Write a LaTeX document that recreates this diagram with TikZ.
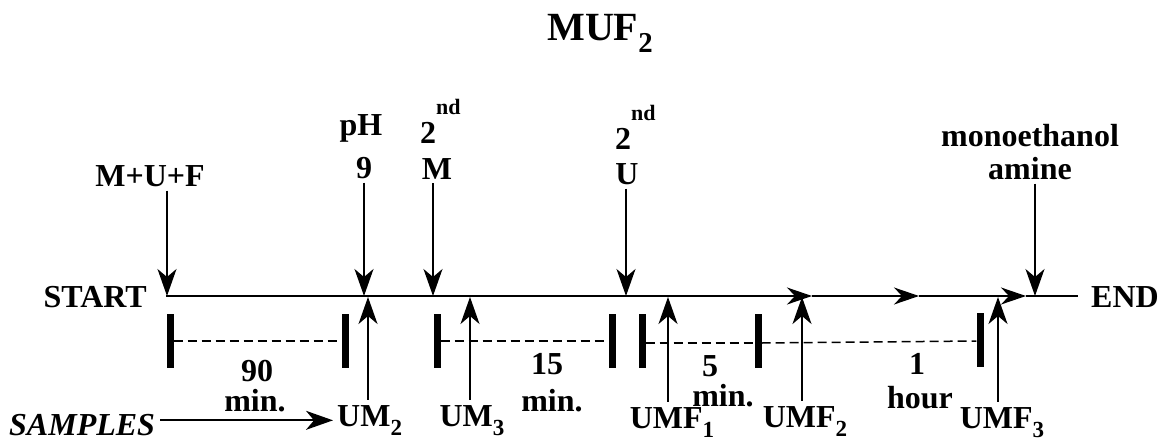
\documentclass[tikz,border=0pt]{standalone}
\usepackage{fontspec}
\setmainfont{Liberation Serif}
\usetikzlibrary{arrows.meta}
\tikzset{
  lbl/.style={font=\fontsize{32}{34}\selectfont\bfseries, inner sep=1pt, align=center},
  ttl/.style={font=\fontsize{40}{42}\selectfont\bfseries, inner sep=1pt},
  arr/.style={line width=1.7pt, -{Stealth[length=27pt,width=19pt,inset=8pt]}},
  tline/.style={line width=1.7pt},
  tarr/.style={line width=1.7pt, -{Stealth[length=25pt,width=17pt,inset=8pt]}},
  bar/.style={fill=black, draw=none, minimum width=7pt, minimum height=54pt, inner sep=0pt},
  dashln/.style={line width=1.5pt, dash pattern=on 9pt off 5pt},
}
\newcommand\nd{\raisebox{0.9em}{\fontsize{22}{22}\selectfont nd}}
\newcommand\sbs[1]{\raisebox{-0.3em}{\scalebox{0.72}{#1}}}
\begin{document}
\begin{tikzpicture}[x=1pt,y=-1pt]
\useasboundingbox (0,0) rectangle (1159,442);
% title
\node[ttl, anchor=base] (title) at (600,40) {MUF\sbs{2}};
% timeline coordinates
\coordinate (ts) at (166,296);
\coordinate (t1) at (167,296);
\coordinate (t2) at (364,296);
\coordinate (t3) at (433,296);
\coordinate (t4) at (626,296);
\coordinate (t5) at (1035,296);
\coordinate (b2) at (368,297);
\coordinate (b3) at (470,297);
\coordinate (b4) at (668,297);
\coordinate (b5) at (802,297);
\coordinate (b6) at (998,297);
\coordinate (m1) at (812,296);
\coordinate (m2) at (919,296);
\coordinate (m3) at (1026,296);
\coordinate (te) at (1078,296);
% labels
\node[lbl, anchor=base east] (start) at (148,307) {START};
\node[lbl, anchor=base west] (end) at (1090,307) {END};
\node[lbl, anchor=base] (mufl) at (150,186) {M+U+F};
\node[lbl, anchor=base] (ph) at (361,135) {pH};
\node[lbl, anchor=base] (nine) at (364,178) {9};
\node[lbl, anchor=base west] (ndm) at (419,143) {2\nd};
\node[lbl, anchor=base] (mm) at (437,179) {M};
\node[lbl, anchor=base west] (ndu) at (614,149) {2\nd};
\node[lbl, anchor=base] (uu) at (627,184) {U};
\node[lbl, anchor=base] (mono) at (1030,146) {monoethanol};
\node[lbl, anchor=base] (amine) at (1030,179) {amine};
% timeline
\draw[tarr] (ts) -- (m1);
\draw[tarr] (m1) -- (m2);
\draw[tarr] (m2) -- (m3);
\draw[tline] (m3) -- (te);
% down arrows
\draw[arr, shorten <=3pt] (mufl.south -| t1) -- (t1);
\draw[arr, shorten <=3pt] (nine.south -| t2) -- (t2);
\draw[arr, shorten <=3pt] (mm.south -| t3) -- (t3);
\draw[arr, shorten <=3pt] (uu.south -| t4) -- (t4);
\draw[arr, shorten <=3pt] (amine.south -| t5) -- (t5);
% bars and intervals
\node[bar] (k1) at (170,341) {};
\node[bar] (k2) at (345,341) {};
\node[bar] (k3) at (437,341) {};
\node[bar] (k4) at (612,341) {};
\node[bar] (k5) at (642,341) {};
\node[bar] (k6) at (758,341) {};
\node[bar] (k7) at (980,340) {};
\draw[dashln] (k1) -- (k2);
\draw[dashln] (k3) -- (k4);
\draw[dashln] ([yshift=-2pt]k5.east) -- ([yshift=-2pt]k6.west);
\draw[dashln] ([yshift=-2pt]k6.east) -- ([yshift=-1pt]k7.west);
\node[lbl, anchor=base] (n90) at (257,381) {90};
\node[lbl, anchor=base] (min1) at (255,411) {min.};
\node[lbl, anchor=base] (n15) at (547,374) {15};
\node[lbl, anchor=base] (min2) at (552,411) {min.};
\node[lbl, anchor=base] (n5) at (710,376) {5};
\node[lbl, anchor=base] (min3) at (723,406) {min.};
\node[lbl, anchor=base] (n1) at (917,374) {1};
\node[lbl, anchor=base] (hour) at (920,408) {hour};
% samples
\node[lbl, anchor=base west, font=\fontsize{32}{34}\selectfont\bfseries\itshape] (samples) at (8,435) {SAMPLES};
\node[lbl, anchor=base west] (um2) at (336,426) {UM\sbs{2}};
\node[lbl, anchor=base] (um3) at (472,426) {UM\sbs{3}};
\node[lbl, anchor=base] (umf1) at (672,428) {UMF\sbs{1}};
\node[lbl, anchor=base] (umf2) at (805,427) {UMF\sbs{2}};
\node[lbl, anchor=base] (umf3) at (1002,428) {UMF\sbs{3}};
\draw[arr, shorten <=4pt, shorten >=3pt] (samples.east |- um2.center) -- (um2.west);
% up arrows
\draw[arr, shorten <=4pt] (um2.north -| b2) -- (b2);
\draw[arr, shorten <=4pt] (um3.north -| b3) -- (b3);
\draw[arr, shorten <=4pt] (umf1.north -| b4) -- (b4);
\draw[arr, shorten <=4pt] (umf2.north -| b5) -- (b5);
\draw[arr, shorten <=4pt] (umf3.north -| b6) -- (b6);
\end{tikzpicture}
\end{document}
